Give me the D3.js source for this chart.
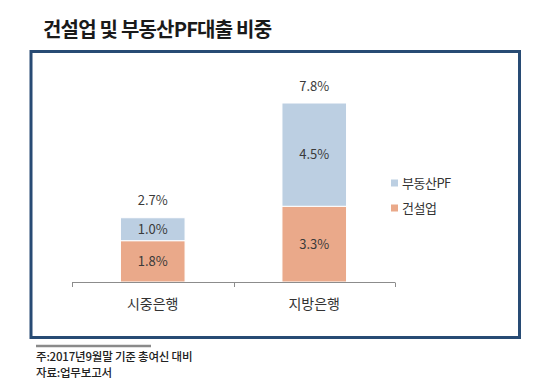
<!DOCTYPE html>
<html><head><meta charset="utf-8">
<script src="https://cdn.jsdelivr.net/npm/d3@7"></script>
<style>
html,body{margin:0;padding:0;background:#fff;}
svg{display:block;}
</style></head>
<body>
<svg id="c" width="540" height="382"></svg>
<script>
const categories = ["시중은행", "지방은행"];
const seriesNames = ["건설업", "부동산PF"];
const construction = [1.8, 3.3];
const realEstatePF = [1.0, 4.5];
const totals = ["2.7%", "7.8%"];
const segLabels = [["1.8%", "1.0%"], ["3.3%", "4.5%"]];
const colors = ["#eaa98a", "#bccfe2"];
const title = "건설업 및 부동산PF대출 비중";
const notes = ["주:2017년9월말 기준 총여신 대비", "자료:업무보고서"];

const svg = d3.select("#c");
const KR = "'Noto Sans CJK KR','Noto Sans',sans-serif";

// title
svg.append("text").attr("x", 43).attr("y", 37)
  .attr("font-family", KR).attr("font-weight", 700).attr("font-size", 20)
  .attr("letter-spacing", -0.8).attr("fill", "#1a1a1a").text(title);

// frame
svg.append("rect").attr("x", 31).attr("y", 51.5).attr("width", 488.5).attr("height", 286)
  .attr("fill", "#fff").attr("stroke", "#284b74").attr("stroke-width", 3);

const x = d3.scaleBand().domain(categories).range([72, 395]).paddingInner(0.6).paddingOuter(0.3);
const y = d3.scaleLinear().domain([0, 7.8]).range([282, 103]);

const data = categories.map((c, i) => ({cat: c, construction: construction[i], pf: realEstatePF[i]}));
const stack = d3.stack().keys(["construction", "pf"])(data);

const g = svg.append("g");
stack.forEach((layer, li) => {
  g.selectAll(null).data(layer).enter().append("rect")
    .attr("x", d => x(d.data.cat))
    .attr("width", x.bandwidth())
    .attr("y", d => y(d[1]))
    .attr("height", d => y(d[0]) - y(d[1]))
    .attr("fill", colors[li])
    .attr("stroke", "#fff").attr("stroke-width", 1);
  g.selectAll(null).data(layer).enter().append("text")
    .attr("x", d => x(d.data.cat) + x.bandwidth() / 2)
    .attr("y", d => (y(d[0]) + y(d[1])) / 2)
    .attr("dy", "0.36em")
    .attr("text-anchor", "middle")
    .attr("font-family", KR).attr("font-size", 13).attr("fill", "#3a3a3a")
    .text((d, i) => segLabels[i][li]);
});

// totals
g.selectAll(null).data(data).enter().append("text")
  .attr("x", d => x(d.cat) + x.bandwidth() / 2)
  .attr("y", d => y(d.construction + d.pf) - 17)
  .attr("dy", "0.36em").attr("text-anchor", "middle")
  .attr("font-family", KR).attr("font-size", 13).attr("fill", "#3a3a3a")
  .text((d, i) => totals[i]);

// axis
const ax = svg.append("g");
const x0 = x.range()[0];
ax.append("line").attr("x1", x0).attr("x2", x.range()[1]).attr("y1", 282.5).attr("y2", 282.5)
  .attr("stroke", "#8c8c8c").attr("stroke-width", 1);
d3.range(categories.length + 1).forEach(i => {
  const bx = Math.round(x0 + i * (x.range()[1] - x0) / categories.length) + 0.5;
  ax.append("line").attr("x1", bx).attr("x2", bx).attr("y1", 282.5).attr("y2", 287)
    .attr("stroke", "#8c8c8c").attr("stroke-width", 1);
});
ax.selectAll(null).data(categories).enter().append("text")
  .attr("x", d => x(d) + x.bandwidth() / 2).attr("y", 304).attr("dy", "0.36em")
  .attr("text-anchor", "middle").attr("font-family", KR).attr("font-size", 14)
  .attr("fill", "#333").text(d => d);

// legend
const legendItems = [{name: seriesNames[1], color: colors[1]}, {name: seriesNames[0], color: colors[0]}];
const lg = svg.append("g");
legendItems.forEach((it, i) => {
  const ly = 183 + i * 25;
  lg.append("rect").attr("x", 391).attr("y", ly - 3.5).attr("width", 7).attr("height", 7).attr("fill", it.color);
  lg.append("text").attr("x", 402).attr("y", ly).attr("dy", "0.36em")
    .attr("font-family", KR).attr("font-size", 13).attr("letter-spacing", -0.5)
    .attr("fill", "#333").text(it.name);
});

// footnote
svg.append("line").attr("x1", 36).attr("x2", 151).attr("y1", 346).attr("y2", 346)
  .attr("stroke", "#8a8a8a").attr("stroke-width", 2.5);
notes.forEach((t, i) => {
  svg.append("text").attr("x", 36).attr("y", 357 + i * 16).attr("dy", "0.36em")
    .attr("font-family", KR).attr("font-weight", 500).attr("font-size", 11.5)
    .attr("letter-spacing", -0.2).attr("fill", "#222").text(t);
});
</script>
</body></html>
